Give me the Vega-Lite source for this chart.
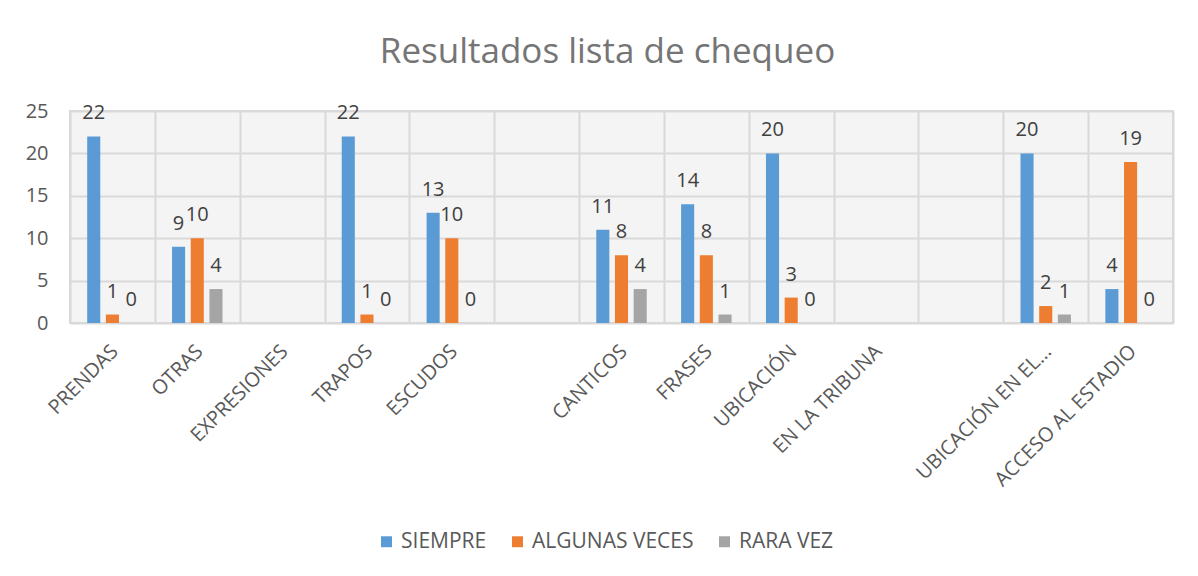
{
  "$schema": "https://vega.github.io/schema/vega-lite/v6.json",
  "autosize": {"type": "none"},
  "width": 1103,
  "height": 212,
  "padding": {"left": 70, "top": 111, "right": 25, "bottom": 253},
  "background": "white",
  "title": {
    "text": "Resultados lista de chequeo",
    "font": "Open Sans",
    "fontSize": 35,
    "fontWeight": "normal",
    "color": "#757575",
    "anchor": "middle",
    "baseline": "alphabetic",
    "offset": 3,
    "dx": -14
  },
  "config": {
    "font": "Open Sans",
    "view": {"fill": "#f4f4f4", "stroke": "#d9d9d9", "strokeWidth": 2}
  },
  "data": {
    "values": [
      {"cat": "PRENDAS", "serie": "SIEMPRE", "valor": 22},
      {"cat": "PRENDAS", "serie": "ALGUNAS VECES", "valor": 1},
      {"cat": "PRENDAS", "serie": "RARA VEZ", "valor": 0},
      {"cat": "OTRAS", "serie": "SIEMPRE", "valor": 9},
      {"cat": "OTRAS", "serie": "ALGUNAS VECES", "valor": 10},
      {"cat": "OTRAS", "serie": "RARA VEZ", "valor": 4},
      {"cat": "TRAPOS", "serie": "SIEMPRE", "valor": 22},
      {"cat": "TRAPOS", "serie": "ALGUNAS VECES", "valor": 1},
      {"cat": "TRAPOS", "serie": "RARA VEZ", "valor": 0},
      {"cat": "ESCUDOS", "serie": "SIEMPRE", "valor": 13},
      {"cat": "ESCUDOS", "serie": "ALGUNAS VECES", "valor": 10},
      {"cat": "ESCUDOS", "serie": "RARA VEZ", "valor": 0},
      {"cat": "CANTICOS", "serie": "SIEMPRE", "valor": 11},
      {"cat": "CANTICOS", "serie": "ALGUNAS VECES", "valor": 8},
      {"cat": "CANTICOS", "serie": "RARA VEZ", "valor": 4},
      {"cat": "FRASES", "serie": "SIEMPRE", "valor": 14},
      {"cat": "FRASES", "serie": "ALGUNAS VECES", "valor": 8},
      {"cat": "FRASES", "serie": "RARA VEZ", "valor": 1},
      {"cat": "UBICACIÓN", "serie": "SIEMPRE", "valor": 20},
      {"cat": "UBICACIÓN", "serie": "ALGUNAS VECES", "valor": 3},
      {"cat": "UBICACIÓN", "serie": "RARA VEZ", "valor": 0},
      {"cat": "UBICACIÓN EN EL...", "serie": "SIEMPRE", "valor": 20},
      {"cat": "UBICACIÓN EN EL...", "serie": "ALGUNAS VECES", "valor": 2},
      {"cat": "UBICACIÓN EN EL...", "serie": "RARA VEZ", "valor": 1},
      {"cat": "ACCESO AL ESTADIO", "serie": "SIEMPRE", "valor": 4},
      {"cat": "ACCESO AL ESTADIO", "serie": "ALGUNAS VECES", "valor": 19},
      {"cat": "ACCESO AL ESTADIO", "serie": "RARA VEZ", "valor": 0}
    ]
  },
  "encoding": {
    "x": {
      "field": "cat",
      "type": "nominal",
      "sort": null,
      "scale": {
        "domain": ["PRENDAS", "OTRAS", "EXPRESIONES", "TRAPOS", "ESCUDOS", " ", "CANTICOS", "FRASES", "UBICACIÓN", "EN LA TRIBUNA", "  ", "UBICACIÓN EN EL...", "ACCESO AL ESTADIO"],
        "paddingInner": 0,
        "paddingOuter": 0
      },
      "axis": {
        "title": null,
        "labelAngle": -45,
        "labelAlign": "right",
        "labelBaseline": "top",
        "labelPadding": 18,
        "labelOffset": -5,
        "labelFontSize": 20,
        "labelColor": "#595959",
        "labelFont": "Open Sans",
        "labelLimit": 300,
        "labelOverlap": false,
        "ticks": false,
        "domain": false,
        "grid": true,
        "tickBand": "extent",
        "gridColor": "#d9d9d9",
        "gridWidth": 2
      }
    },
    "xOffset": {
      "field": "serie",
      "type": "nominal",
      "sort": ["SIEMPRE", "ALGUNAS VECES", "RARA VEZ"],
      "scale": {"paddingInner": 0.3, "paddingOuter": 0.92}
    },
    "y": {
      "field": "valor",
      "type": "quantitative",
      "scale": {"domain": [0, 25]},
      "axis": {
        "title": null,
        "values": [0, 5, 10, 15, 20, 25],
        "labelFontSize": 20,
        "labelColor": "#595959",
        "labelPadding": 22,
        "ticks": false,
        "domain": false,
        "grid": true,
        "gridColor": "#d9d9d9",
        "gridWidth": 2
      }
    }
  },
  "layer": [
    {
      "mark": {"type": "bar", "stroke": null},
      "encoding": {
        "color": {
          "field": "serie",
          "type": "nominal",
          "sort": ["SIEMPRE", "ALGUNAS VECES", "RARA VEZ"],
          "scale": {"domain": ["SIEMPRE", "ALGUNAS VECES", "RARA VEZ"], "range": ["#5B9BD5", "#ED7D31", "#A5A5A5"]},
          "legend": {
            "title": null,
            "orient": "none",
            "direction": "horizontal",
            "legendX": 306,
            "legendY": 420,
            "symbolType": "square",
            "symbolSize": 120,
            "symbolStrokeWidth": 0,
            "labelFontSize": 21,
            "labelLimit": 400,
            "labelColor": "#595959",
            "labelOffset": 4,
            "columnPadding": 20
          }
        }
      }
    },
    {
      "mark": {"type": "text", "fontSize": 20, "color": "#404040", "baseline": "alphabetic", "dy": -17},
      "encoding": {"text": {"field": "valor", "type": "quantitative"}}
    }
  ]
}
